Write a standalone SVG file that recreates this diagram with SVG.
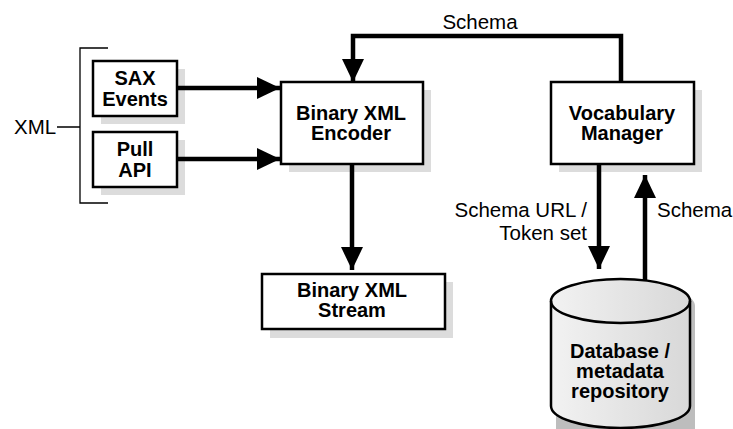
<svg xmlns="http://www.w3.org/2000/svg" width="733" height="429" viewBox="0 0 733 429">
<style>
.box{fill:#fff;stroke:#000;stroke-width:2.5}
.shadow{fill:#dcdcdc}
.b{font-family:"Liberation Sans",Arial,sans-serif;font-weight:bold;font-size:20px;text-anchor:middle;fill:#000}
.r{font-family:"Liberation Sans",Arial,sans-serif;font-size:20.5px;fill:#000}
.conn{fill:none;stroke:#000;stroke-width:4.5}
.thin{fill:none;stroke:#000;stroke-width:1.3}
</style>
<defs>
<marker id="ah" markerUnits="userSpaceOnUse" markerWidth="24" markerHeight="22" refX="23" refY="11" orient="auto" viewBox="0 0 24 22">
<path d="M0,0 L23,11 L0,22 z" fill="#000"/>
</marker>
<linearGradient id="cyl" x1="0" x2="1" y1="0" y2="0">
<stop offset="0" stop-color="#f2f2f2"/>
<stop offset="1" stop-color="#d8d8d8"/>
</linearGradient>
</defs>
<rect width="733" height="429" fill="#fff"/>

<g id="xml-label">
<text class="r" x="14" y="134">XML</text>
<path class="thin" d="M57,127 H80 M108,48 H80 V203 H108"/>
</g>

<g id="sax">
<rect class="shadow" x="101" y="69" width="84" height="55"/>
<rect class="box" x="93" y="61" width="84" height="55"/>
<text class="b" x="135" y="85">SAX</text>
<text class="b" x="135" y="106">Events</text>
</g>

<g id="pull">
<rect class="shadow" x="101" y="140" width="84" height="55"/>
<rect class="box" x="93" y="132" width="84" height="55"/>
<text class="b" x="135" y="156">Pull</text>
<text class="b" x="135" y="177">API</text>
</g>

<g id="encoder">
<rect class="shadow" x="289" y="90" width="142" height="82"/>
<rect class="box" x="281" y="82" width="142" height="82"/>
<text class="b" x="351" y="120">Binary XML</text>
<text class="b" x="351" y="140">Encoder</text>
</g>

<g id="vocab">
<rect class="shadow" x="559" y="90" width="143" height="82"/>
<rect class="box" x="551" y="82" width="143" height="82"/>
<text class="b" x="622" y="120">Vocabulary</text>
<text class="b" x="622" y="140">Manager</text>
</g>

<g id="stream">
<rect class="shadow" x="270" y="282" width="183" height="56"/>
<rect class="box" x="262" y="274" width="183" height="55"/>
<text class="b" x="352" y="297">Binary XML</text>
<text class="b" x="352" y="317">Stream</text>
</g>

<g id="database">
<path d="M556,306 A69.5,22 0 0 1 695,306 V432 H556 z" fill="#bdbdbd"/>
<path d="M551,301 A69.5,22 0 0 1 690,301 V406 A69.5,22 0 0 1 551,406 z" fill="url(#cyl)" stroke="#000" stroke-width="2.5"/>
<path d="M551,301 A69.5,22 0 0 0 690,301" fill="none" stroke="#000" stroke-width="2.5"/>
<text class="b" x="620" y="358">Database /</text>
<text class="b" x="620" y="378">metadata</text>
<text class="b" x="620" y="398">repository</text>
</g>

<g id="connectors">
<path class="conn" d="M177,88 H280" marker-end="url(#ah)"/>
<path class="conn" d="M177,159 H280" marker-end="url(#ah)"/>
<path class="conn" d="M352,164 V270" marker-end="url(#ah)"/>
<path class="conn" d="M621,82 V36 H353 V82" marker-end="url(#ah)"/>
<path class="conn" d="M599,164 V269" marker-end="url(#ah)"/>
<path class="conn" d="M645,280 V175" marker-end="url(#ah)"/>
<text class="r" x="480" y="29" text-anchor="middle">Schema</text>
<text class="r" x="587" y="217" text-anchor="end">Schema URL /</text>
<text class="r" x="587" y="240" text-anchor="end">Token set</text>
<text class="r" x="657" y="217">Schema</text>
</g>
</svg>
